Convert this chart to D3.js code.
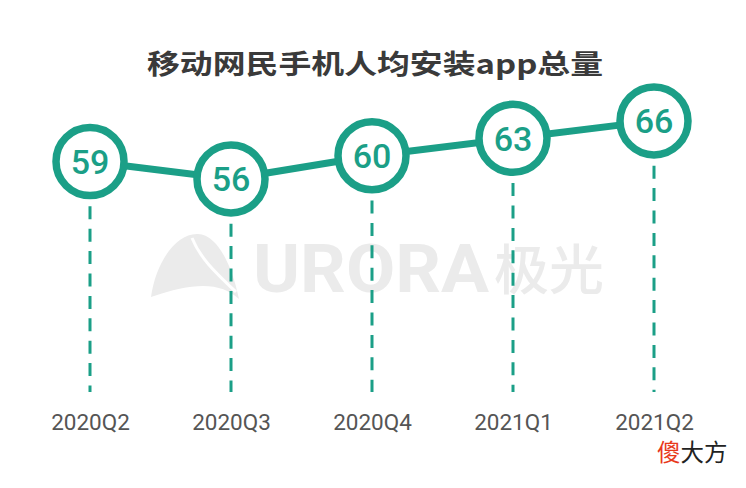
<!DOCTYPE html>
<html>
<head>
<meta charset="utf-8">
<script src="https://cdn.jsdelivr.net/npm/d3@7"></script>
<style>
  html, body { margin: 0; padding: 0; background: #fff; }
  svg { display: block; }
</style>
</head>
<body>
<svg id="chart" width="746" height="488"></svg>
<script>
const categories = ["2020Q2", "2020Q3", "2020Q4", "2021Q1", "2021Q2"];
const values = [59, 56, 60, 63, 66];
const title = "移动网民手机人均安装app总量";
const watermarkLatin = "URORA";
const watermarkCJK = "极光";
const signature = ["傻", "大方"];

const teal = "#1b9f87";
const svg = d3.select("#chart");

// watermark
const wm = svg.append("g").attr("fill", "#ebebeb");
wm.append("path")
  .attr("d", "M151,297 C156,262 176,233 198,234 C218,235 232,266 239,299 C222,283 196,281 151,297 Z");
wm.append("path")
  .attr("d", "M192,238 C200,258 215,272 236,292")
  .attr("fill", "none").attr("stroke", "#fff").attr("stroke-width", 3);
wm.append("text")
  .attr("x", 253).attr("y", 292)
  .attr("font-family", "Roboto, sans-serif").attr("font-weight", 700)
  .attr("font-size", 66)
  .attr("textLength", 236).attr("lengthAdjust", "spacingAndGlyphs")
  .text(watermarkLatin);
wm.append("text")
  .attr("x", 494).attr("y", 290)
  .attr("font-family", "'Noto Sans CJK SC', sans-serif").attr("font-weight", 500)
  .attr("font-size", 54)
  .attr("textLength", 110).attr("lengthAdjust", "spacingAndGlyphs")
  .text(watermarkCJK);

// title
svg.append("text")
  .attr("x", 147).attr("y", 74)
  .attr("font-family", "'Noto Sans CJK SC', sans-serif").attr("font-weight", 700)
  .attr("font-size", 27).attr("fill", "#3a3a3a")
  .attr("textLength", 456).attr("lengthAdjust", "spacingAndGlyphs")
  .text(title);

const x = d3.scalePoint().domain(categories).range([90, 654]);
const y = d3.scaleLinear().domain([56, 66]).range([178.9, 120.9]);
const data = categories.map((c, i) => ({ c, v: values[i] }));

// dashed drop lines
svg.append("g").selectAll("line").data(data).join("line")
  .attr("x1", d => x(d.c)).attr("x2", d => x(d.c))
  .attr("y1", d => y(d.v)).attr("y2", 392)
  .attr("stroke", teal).attr("stroke-width", 3)
  .attr("stroke-dasharray", "13,9.4");

// connecting line
svg.append("path").datum(data)
  .attr("fill", "none").attr("stroke", teal).attr("stroke-width", 7)
  .attr("d", d3.line().x(d => x(d.c)).y(d => y(d.v)));

// circles
svg.append("g").selectAll("circle").data(data).join("circle")
  .attr("cx", d => x(d.c)).attr("cy", d => y(d.v)).attr("r", 34)
  .attr("fill", "#fff").attr("stroke", teal).attr("stroke-width", 7.5);

// values
svg.append("g").selectAll("text").data(data).join("text")
  .attr("x", d => x(d.c)).attr("y", d => y(d.v)).attr("dy", "0.37em")
  .attr("text-anchor", "middle")
  .attr("font-family", "Roboto, sans-serif").attr("font-weight", 500)
  .attr("font-size", 34).attr("fill", teal)
  .text(d => d.v);

// x axis
const ax = svg.append("g").attr("transform", "translate(0,430)")
  .call(d3.axisBottom(x).tickSize(0).tickPadding(0));
ax.select(".domain").remove();
ax.selectAll("text")
  .attr("y", 0).attr("dy", 0)
  .attr("font-family", "Roboto, sans-serif").attr("font-size", 22.5)
  .attr("fill", "#555");

// signature
const sig = svg.append("text")
  .attr("x", 657).attr("y", 461)
  .attr("font-family", "'Noto Sans CJK SC', sans-serif").attr("font-size", 23.5);
sig.append("tspan").attr("fill", "#e8391b").text(signature[0]);
sig.append("tspan").attr("fill", "#222").text(signature[1]);
</script>
</body>
</html>
